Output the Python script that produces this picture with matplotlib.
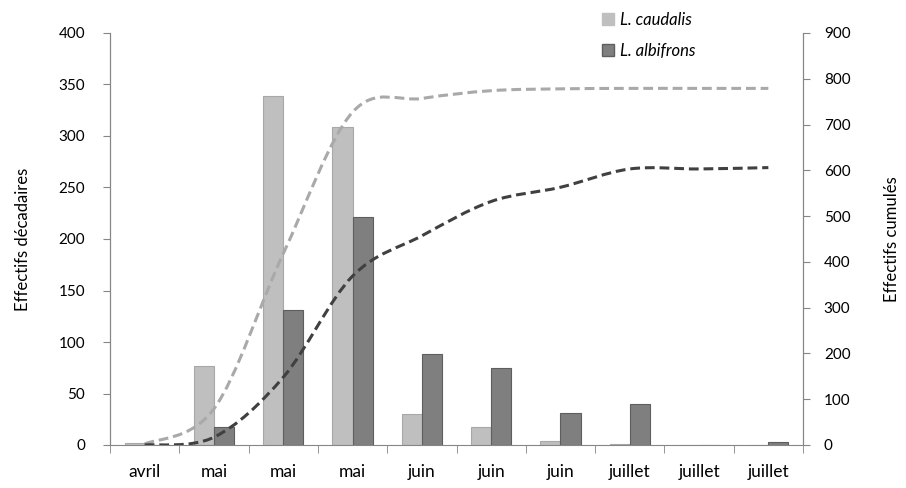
import numpy as np
import matplotlib
matplotlib.use("Agg")
import matplotlib.pyplot as plt
from matplotlib.path import Path
from matplotlib.patches import PathPatch, Patch

plt.rcParams['font.family'] = ['Lato', 'DejaVu Sans']

categories = ['avril', 'mai', 'mai', 'mai', 'juin', 'juin', 'juin', 'juillet', 'juillet', 'juillet']
caudalis = [2, 77, 339, 309, 30, 17, 4, 1, 0, 0]
albifrons = [0, 17, 131, 221, 88, 75, 31, 40, 0, 3]
cum_caudalis = [2, 79, 418, 727, 757, 774, 778, 779, 779, 779]
cum_albifrons = [0, 17, 148, 369, 457, 532, 563, 603, 603, 606]

light = '#bfbfbf'
dark = '#7f7f7f'
axis_col = '#868686'


def smooth_path(xs, ys):
    # excel-like smoothed line: cubic bezier through each point
    xs = np.asarray(xs, float)
    ys = np.asarray(ys, float)
    n = len(xs)
    verts = [(xs[0], ys[0])]
    codes = [Path.MOVETO]
    for i in range(n - 1):
        p0 = (xs[max(i - 1, 0)], ys[max(i - 1, 0)])
        p1 = (xs[i], ys[i])
        p2 = (xs[i + 1], ys[i + 1])
        p3 = (xs[min(i + 2, n - 1)], ys[min(i + 2, n - 1)])
        c1 = (p1[0] + (p2[0] - p0[0]) / 6, p1[1] + (p2[1] - p0[1]) / 6)
        c2 = (p2[0] - (p3[0] - p1[0]) / 6, p2[1] - (p3[1] - p1[1]) / 6)
        verts += [c1, c2, p2]
        codes += [Path.CURVE4] * 3
    return Path(verts, codes)


fig = plt.figure(figsize=(9.06, 4.88), dpi=100)
ax = fig.add_axes([110 / 906, 43 / 488, 693 / 906, 412 / 488])
ax2 = ax.twinx()

x = np.arange(len(categories))
w = 0.29
ax.bar(x - w / 2, caudalis, w, color=light, edgecolor='#a8a8a8', linewidth=0.8, label='L. caudalis', zorder=2)
ax.bar(x + w / 2, albifrons, w, color=dark, edgecolor='#5e5e5e', linewidth=0.8, label='L. albifrons', zorder=2)

ax2.add_patch(PathPatch(smooth_path(x, cum_caudalis), fill=False, edgecolor='#a9a9a9',
                        linewidth=2.2, linestyle=(0, (3.2, 1.6)), zorder=3))
ax2.add_patch(PathPatch(smooth_path(x, cum_albifrons), fill=False, edgecolor='#404040',
                        linewidth=2.2, linestyle=(0, (3.2, 1.6)), zorder=3))

ax.set_xlim(-0.5, len(categories) - 0.5)
ax.set_ylim(0, 400)
ax2.set_ylim(0, 900)
ax.set_yticks(range(0, 401, 50))
ax2.set_yticks(range(0, 901, 100))

ax.set_xticks(x)
ax.set_xticklabels(categories, fontsize=12.5)
ax.set_xticks(np.arange(-0.5, len(categories)), minor=True)
ax.tick_params(axis='x', which='major', length=0, pad=14)
ax.tick_params(axis='x', which='minor', length=6, color=axis_col)
ax.tick_params(axis='y', labelsize=11, length=5, color=axis_col, pad=13)
ax2.tick_params(axis='y', labelsize=11, length=5, color=axis_col, pad=10)

for a in (ax, ax2):
    a.spines['top'].set_visible(False)
    for s in ('left', 'right', 'bottom'):
        a.spines[s].set_color(axis_col)
ax2.spines['bottom'].set_visible(False)

ax.set_ylabel('Effectifs décadaires', fontsize=12, labelpad=20)
ax2.set_ylabel('Effectifs cumulés', fontsize=12, labelpad=24)

handles = [Patch(facecolor=light, edgecolor=light), Patch(facecolor=dark, edgecolor='#5e5e5e')]
fig.legend(handles, ['L. caudalis', 'L. albifrons'], loc='upper left',
           bbox_to_anchor=(587 / 906, 1 + 3 / 488), frameon=False,
           prop={'style': 'italic', 'size': 12}, handlelength=0.7, handleheight=0.7,
           handletextpad=0.4, labelspacing=0.9)

fig.savefig('out.png', dpi=100)
